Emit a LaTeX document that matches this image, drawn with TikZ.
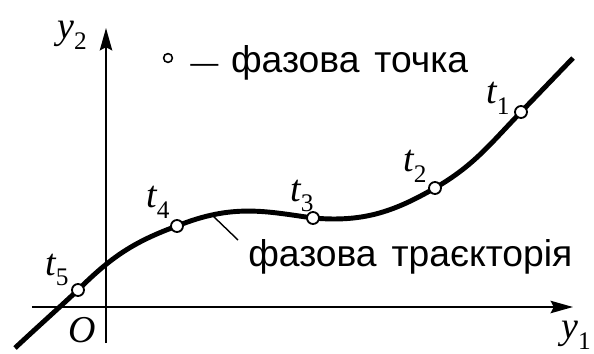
\documentclass[tikz,border=0pt]{standalone}
\usepackage{fontspec}
\setmainfont{Liberation Sans}
\newfontfamily\tmsfont{Liberation Serif}
\usetikzlibrary{arrows.meta}
\newcommand{\varlab}[2]{{\tmsfont\itshape #1}\raisebox{-0.28em}{\tmsfont\fontsize{18}{18}\selectfont #2}}
\tikzset{
  axisline/.style={line width=1.4pt, -{Stealth[length=5.6mm, width=3.1mm, inset=0.8mm]}},
  trajline/.style={line width=3.5pt},
  phasept/.style={circle, draw, fill=white, line width=1.3pt, inner sep=0pt, minimum size=3.0mm},
  varnode/.style={font=\fontsize{27}{27}\selectfont, inner sep=0pt},
  textnode/.style={font=\fontsize{26.5}{30}\selectfont, inner sep=0pt, anchor=base west}
}

\begin{document}
\begin{tikzpicture}
  \useasboundingbox (-2.65,-1.15) rectangle (12.2,7.675);
  % axes
  \coordinate (xs) at (-1.85,0);
  \coordinate (xe) at (11.675,0);
  \coordinate (ys) at (0,-0.9);
  \coordinate (ye) at (0,6.975);
  \draw[axisline] (xs) -- (xe);
  \draw[axisline] (ys) -- (ye);
  \node[varnode] (ylab2) at (-0.85,6.8) {\varlab{y}{2}};
  \node[varnode] (ylab1) at (11.75,-0.7) {\varlab{y}{1}};
  \node[varnode] (orig) at (-0.6,-0.575) {{\tmsfont\itshape O}};
  % trajectory
  \coordinate (s) at (-2.275,-1.025);
  \coordinate (c5) at (-0.7,0.425);
  \coordinate (c4) at (1.775,2.025);
  \coordinate (c3) at (5.175,2.225);
  \coordinate (c2) at (8.225,2.975);
  \coordinate (c1) at (10.375,4.875);
  \coordinate (e) at (11.675,6.225);
  \draw[trajline] (s) to[out=43,in=223] (c5) to[out=45,in=200] (c4)
    .. controls +(22:1.5) and +(172:1.2) .. (c3)
    to[out=-5,in=210] (c2) to[out=30,in=226] (c1) to[out=46,in=226] (e);
  \coordinate (pp) at (2.65,2.3);
  \coordinate (pe) at (3.3,1.675);
  \draw[line width=1pt] (pp) -- (pe);
  \node[textnode] (trj) at (3.55,1.025) {фазова\hspace{0.4em}траєкторія};
  % phase points
  \foreach \i in {1,...,5} {
    \node[phasept] (p\i) at (c\i) {};
  }
  \node[varnode] (tl1) at (9.8,5.225) {\varlab{t}{1}};
  \node[varnode] (tl2) at (7.725,3.525) {\varlab{t}{2}};
  \node[varnode] (tl3) at (4.9,2.775) {\varlab{t}{3}};
  \node[varnode] (tl4) at (1.3,2.625) {\varlab{t}{4}};
  \node[varnode] (tl5) at (-1.225,0.925) {\varlab{t}{5}};
  % legend
  \node[phasept, minimum size=2.2mm, line width=1.1pt] (leg) at (1.55,6.225) {};
  \node[textnode] (legtxt) at (2.1,5.875) {{\fontsize{20}{20}\selectfont —}\hspace{9pt}фазова\hspace{0.4em}точка};
\end{tikzpicture}
\end{document}
